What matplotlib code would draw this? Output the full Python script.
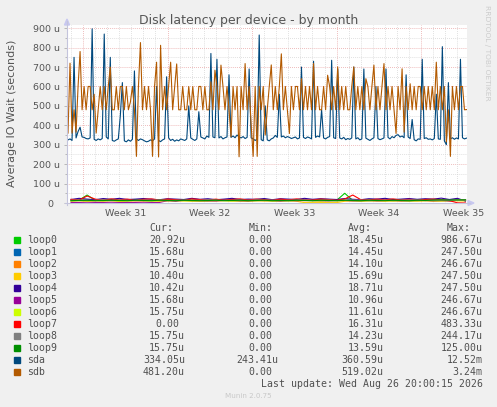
import numpy as np
import matplotlib
matplotlib.use('Agg')
import matplotlib.pyplot as plt
from matplotlib.patches import Polygon, Rectangle
from matplotlib.lines import Line2D

# ---- data (values in micro-seconds) ----
# sda / sdb sampled every 4 hours, loops every 16 hours
sda = [325, 330, 322, 750, 335, 368, 390, 340, 338, 332, 330, 335, 897, 328, 322, 330, 325, 332, 870, 340,
       330, 750, 322, 318, 325, 330, 450, 620, 320, 315, 325, 318, 328, 680, 330, 322, 330, 326, 320, 315,
       318, 325, 320, 330, 600, 322, 316, 325, 330, 650, 335, 322, 328, 318, 325, 320, 330, 326, 322, 330,
       500, 335, 328, 322, 330, 470, 340, 335, 330, 345, 338, 770, 340, 336, 740, 335, 342, 330, 336, 340,
       660, 338, 345, 336, 350, 340, 335, 342, 332, 338, 690, 335, 330, 322, 330, 865, 326, 320, 500, 325,
       320, 330, 335, 348, 338, 560, 340, 345, 336, 342, 338, 332, 336, 340, 330, 335, 700, 338, 332, 340,
       336, 330, 730, 338, 345, 340, 480, 335, 330, 338, 342, 735, 336, 332, 690, 335, 330, 338, 326, 332,
       328, 335, 700, 330, 336, 325, 330, 690, 334, 328, 322, 330, 336, 600, 332, 326, 330, 335, 690, 338,
       330, 342, 336, 348, 352, 340, 345, 336, 660, 340, 332, 430, 326, 320, 330, 328, 740, 332, 336, 328,
       330, 325, 332, 560, 330, 328, 805, 320, 300, 620, 330, 336, 328, 335, 330, 740, 336, 330, 334]
sdb = [360, 720, 360, 480, 365, 600, 780, 480, 600, 480, 600, 600, 480, 560, 360, 480, 600, 480, 600, 480,
       600, 700, 480, 480, 600, 480, 600, 600, 480, 600, 480, 520, 600, 480, 240, 600, 826, 480, 600, 480,
       600, 480, 240, 600, 725, 237, 812, 480, 600, 480, 600, 725, 480, 600, 716, 480, 480, 600, 480, 480,
       600, 480, 600, 480, 480, 600, 600, 480, 600, 480, 480, 624, 480, 684, 600, 480, 710, 600, 480, 600,
       480, 341, 600, 480, 600, 238, 600, 480, 718, 480, 600, 400, 240, 600, 240, 600, 480, 600, 350, 480,
       600, 711, 480, 600, 480, 600, 768, 480, 600, 480, 358, 600, 480, 600, 600, 480, 640, 480, 600, 480,
       600, 480, 718, 480, 600, 480, 480, 600, 480, 658, 600, 480, 600, 480, 701, 480, 600, 480, 600, 480,
       480, 600, 701, 480, 600, 480, 600, 480, 640, 600, 480, 600, 710, 480, 600, 480, 600, 718, 480, 600,
       480, 600, 480, 358, 600, 480, 691, 365, 600, 480, 614, 480, 600, 480, 600, 600, 480, 600, 480, 600,
       480, 600, 480, 725, 480, 600, 480, 600, 314, 480, 240, 600, 480, 600, 480, 600, 600, 480, 481]

loop0 = [13, 15, 41, 14, 12, 15, 11, 14, 16, 13, 12, 15, 14, 12, 16, 14, 13, 12, 15, 14, 16, 12, 14, 13, 15,
         14, 12, 16, 14, 13, 15, 14, 12, 14, 50, 13, 15, 14, 16, 14, 12, 15, 14, 16, 14, 13, 15, 16, 14, 16]
loop1 = [12, 15, 14, 16, 13, 15, 12, 14, 16, 13, 15, 14, 12, 16, 14, 13, 15, 14, 12, 15, 16, 13, 14, 15, 12,
         14, 16, 13, 15, 14, 13, 15, 14, 16, 13, 15, 14, 12, 15, 14, 16, 13, 15, 14, 12, 15, 14, 16, 15, 16]
loop2 = [13, 15, 14, 12, 16, 14, 13, 15, 12, 14, 15, 13, 16, 14, 12, 15, 14, 13, 15, 16, 13, 14, 12, 15, 14,
         16, 13, 14, 15, 12, 14, 16, 13, 15, 14, 12, 15, 14, 13, 16, 14, 12, 15, 13, 14, 16, 15, 14, 15, 16]
loop3 = [10, 12, 9, 11, 10, 12, 9, 10, 11, 10, 12, 9, 11, 10, 12, 10, 9, 11, 10, 12, 11, 10, 9, 12, 10,
         11, 10, 12, 9, 2, 2, 2, 2, 2, 9, 11, 10, 12, 10, 9, 11, 10, 12, 10, 11, 9, 10, 12, 11, 10]
loop4 = [18, 24, 20, 17, 23, 19, 24, 18, 20, 23, 19, 17, 22, 20, 18, 24, 19, 22, 17, 20, 24, 18, 20, 19, 23,
         17, 22, 20, 18, 24, 19, 22, 20, 18, 23, 19, 17, 22, 20, 24, 18, 20, 23, 19, 22, 20, 25, 18, 24, 10]
loop5 = [3, 3, 4, 3, 3, 4, 3, 3, 3, 4, 3, 3, 12, 10, 13, 11, 12, 10, 11, 13, 12, 10, 11, 12, 13,
         11, 10, 12, 11, 13, 12, 10, 11, 12, 13, 11, 10, 12, 11, 13, 12, 11, 10, 12, 13, 11, 12, 10, 14, 16]
loop6 = [11, 12, 10, 13, 11, 12, 10, 11, 13, 12, 10, 11, 12, 13, 11, 10, 12, 11, 13, 12, 10, 11, 12, 11, 13,
         10, 12, 11, 12, 13, 11, 10, 12, 11, 13, 12, 10, 11, 12, 13, 11, 12, 10, 11, 13, 12, 11, 12, 14, 16]
loop7 = [19, 15, 36, 20, 14, 21, 16, 20, 13, 19, 21, 15, 20, 17, 14, 21, 18, 15, 20, 14, 18, 21, 15, 20, 17,
         14, 20, 16, 21, 17, 15, 20, 18, 14, 21, 41, 17, 15, 20, 16, 21, 15, 19, 14, 18, 20, 16, 12, 1, 0]
loop8 = [14, 15, 13, 14, 16, 13, 15, 14, 13, 15, 14, 16, 13, 14, 15, 13, 14, 16, 15, 13, 14, 15, 13, 16, 14,
         15, 13, 14, 15, 16, 13, 14, 15, 13, 14, 16, 15, 13, 14, 15, 13, 14, 16, 15, 13, 14, 15, 14, 15, 16]
loop9 = [12, 13, 14, 12, 13, 14, 13, 12, 14, 13, 12, 14, 13, 12, 14, 13, 12, 13, 14, 12, 13, 14, 12, 13, 14,
         12, 13, 12, 14, 13, 12, 14, 13, 12, 14, 13, 12, 14, 13, 12, 14, 13, 12, 14, 13, 15, 16, 15, 16, 16]

names = ['loop0', 'loop1', 'loop2', 'loop3', 'loop4', 'loop5', 'loop6', 'loop7', 'loop8', 'loop9', 'sda', 'sdb']
colors = ['#00CC00', '#0066B3', '#FF8000', '#FFCC00', '#330099', '#990099',
          '#CCFF00', '#FF0000', '#808080', '#008F00', '#00487D', '#B35A00']
cur = ['20.92u', '15.68u', '15.75u', '10.40u', '10.42u', '15.68u', '15.75u', '0.00', '15.75u', '15.75u', '334.05u', '481.20u']
mins = ['0.00'] * 10 + ['243.41u', '0.00']
avgs = ['18.45u', '14.45u', '14.10u', '15.69u', '18.71u', '10.96u', '11.61u', '16.31u', '14.23u', '13.59u', '360.59u', '519.02u']
maxs = ['986.67u', '247.50u', '246.67u', '247.50u', '247.50u', '246.67u', '246.67u', '483.33u', '244.17u', '125.00u', '12.52m', '3.24m']

week_labels = ['Week 31', 'Week 32', 'Week 33', 'Week 34', 'Week 35']
y_ticks = [0, 100, 200, 300, 400, 500, 600, 700, 800, 900]

# ---- figure ----
W, H = 497, 407
fig = plt.figure(figsize=(W / 100, H / 100), dpi=100, facecolor='#f0f0f0')


def fx(px):
    return px / W


def fy(py):
    return 1 - py / H


L, R, T, B = 67, 467, 25.3, 203
ax = fig.add_axes([fx(L), fy(B), (R - L) / W, (B - T) / H])
ax.set_facecolor('white')
for s in ax.spines.values():
    s.set_visible(False)
ax.set_xlim(0, 795)
ax.set_ylim(0, 915)

dots = (0, (0.7, 1.4))
for v in range(50, 901, 50):
    c = '#e8a0a0' if v % 100 == 0 else '#d4d4d4'
    ax.axhline(v, color=c, lw=0.7, ls=dots, zorder=1)
week0 = 31.8
for k in range(-1, 32):
    h = week0 + 24 * k
    c = '#e8a0a0' if k % 7 == 0 else '#d4d4d4'
    ax.axvline(h, color=c, lw=0.7, ls=dots, zorder=1)

t_disk = np.arange(len(sda)) * 4 + 2
t_loop = np.arange(len(loop0)) * 16 + 8
loops = [loop0, loop1, loop2, loop3, loop4, loop5, loop6, loop7, loop8, loop9]
for vals, c in zip(loops, colors[:10]):
    ax.plot(t_loop, vals, color=c, lw=0.8, zorder=3)
ax.plot(t_disk, sda, color=colors[10], lw=0.8, zorder=4)
ax.plot(t_disk, sdb, color=colors[11], lw=0.8, zorder=5)

# ticks
ax.set_yticks(y_ticks)
ax.set_yticks(range(50, 901, 100), minor=True)
ax.tick_params(axis='y', which='major', length=2.5, width=0.7, color='#b8b8b8', labelleft=False)
ax.tick_params(axis='y', which='minor', length=1.5, width=0.7, color='#b8b8b8')
ax.set_xticks([])

tc = '#555555'
for v in y_ticks:
    lab = '0' if v == 0 else f'{v} u'
    off = -13.3 if v == 0 else -7
    ax.annotate(lab, xy=(0, v), xycoords=('axes fraction', 'data'), xytext=(off, -1),
                textcoords='offset pixels', ha='right', va='center', fontsize=6.8, color=tc,
                annotation_clip=False)
for i, lab in enumerate(week_labels):
    h = week0 + 84 + 168 * i
    ax.annotate(lab, xy=(h, 0), xycoords=('data', 'axes fraction'), xytext=(0, -13),
                textcoords='offset pixels', ha='center', va='baseline', fontsize=6.8, color=tc,
                annotation_clip=False)

# axes lines with arrows
ac = '#c4c4dc'
fig.add_artist(Line2D([fx(L), fx(L)], [fy(B + 2), fy(21)], color=ac, lw=0.8, transform=fig.transFigure))
fig.add_artist(Line2D([fx(L - 2), fx(470)], [fy(B), fy(B)], color=ac, lw=0.8, transform=fig.transFigure))
fig.add_artist(Polygon([(fx(64.5), fy(25)), (fx(69.5), fy(25)), (fx(67), fy(19))],
                       closed=True, color='#c8c8f0', transform=fig.transFigure))
fig.add_artist(Polygon([(fx(468), fy(200.5)), (fx(468), fy(205.5)), (fx(474), fy(203))],
                       closed=True, color='#c8c8f0', transform=fig.transFigure))

# texts
fig.text(fx(248.5), fy(24), 'Disk latency per device - by month', ha='center', va='baseline',
         fontsize=9, color=tc)
fig.text(fx(12.5), fy(113.8), 'Average IO Wait (seconds)', rotation=90, ha='center', va='center',
         fontsize=8, color=tc)
fig.text(fx(487.5), fy(5), 'RRDTOOL / TOBI OETIKER', rotation=270, ha='center', va='top',
         fontsize=5.4, color='#cccccc')

# legend
mono = 'DejaVu Sans Mono'
lc = '#505050'
fs = 7.1
cw = 5.95
for x, h in zip([149.3, 248.3, 347.7, 446.7], ['Cur:', 'Min:', 'Avg:', 'Max:']):
    fig.text(fx(x), fy(231), h, ha='left', va='baseline', family=mono, fontsize=fs, color=lc)


def val_text(xr, yb, s):
    if not s[-1].isalpha():
        xr -= cw
    fig.text(fx(xr), fy(yb), s, ha='right', va='baseline', family=mono, fontsize=fs, color=lc)


for k, name in enumerate(names):
    yb = 243.2 + 11.97 * k
    fig.add_artist(Rectangle((fx(14), fy(237.3 + 11.97 * k + 6)), 6 / W, 6 / H,
                             color=colors[k], transform=fig.transFigure))
    fig.text(fx(26.7), fy(yb), name, ha='left', va='baseline', family=mono, fontsize=fs, color=lc)
    val_text(185, yb, cur[k])
    val_text(278.3, yb, mins[k])
    val_text(383.3, yb, avgs[k])
    val_text(482.7, yb, maxs[k])

fig.text(fx(482.7), fy(386.7), 'Last update: Wed Aug 26 20:00:15 2026', ha='right', va='baseline',
         family=mono, fontsize=fs, color=lc)
fig.text(fx(248.5), fy(398.3), 'Munin 2.0.75', ha='center', va='baseline', fontsize=5.1, color='#c8c8c8')

fig.savefig('out.png', dpi=100, facecolor=fig.get_facecolor())
